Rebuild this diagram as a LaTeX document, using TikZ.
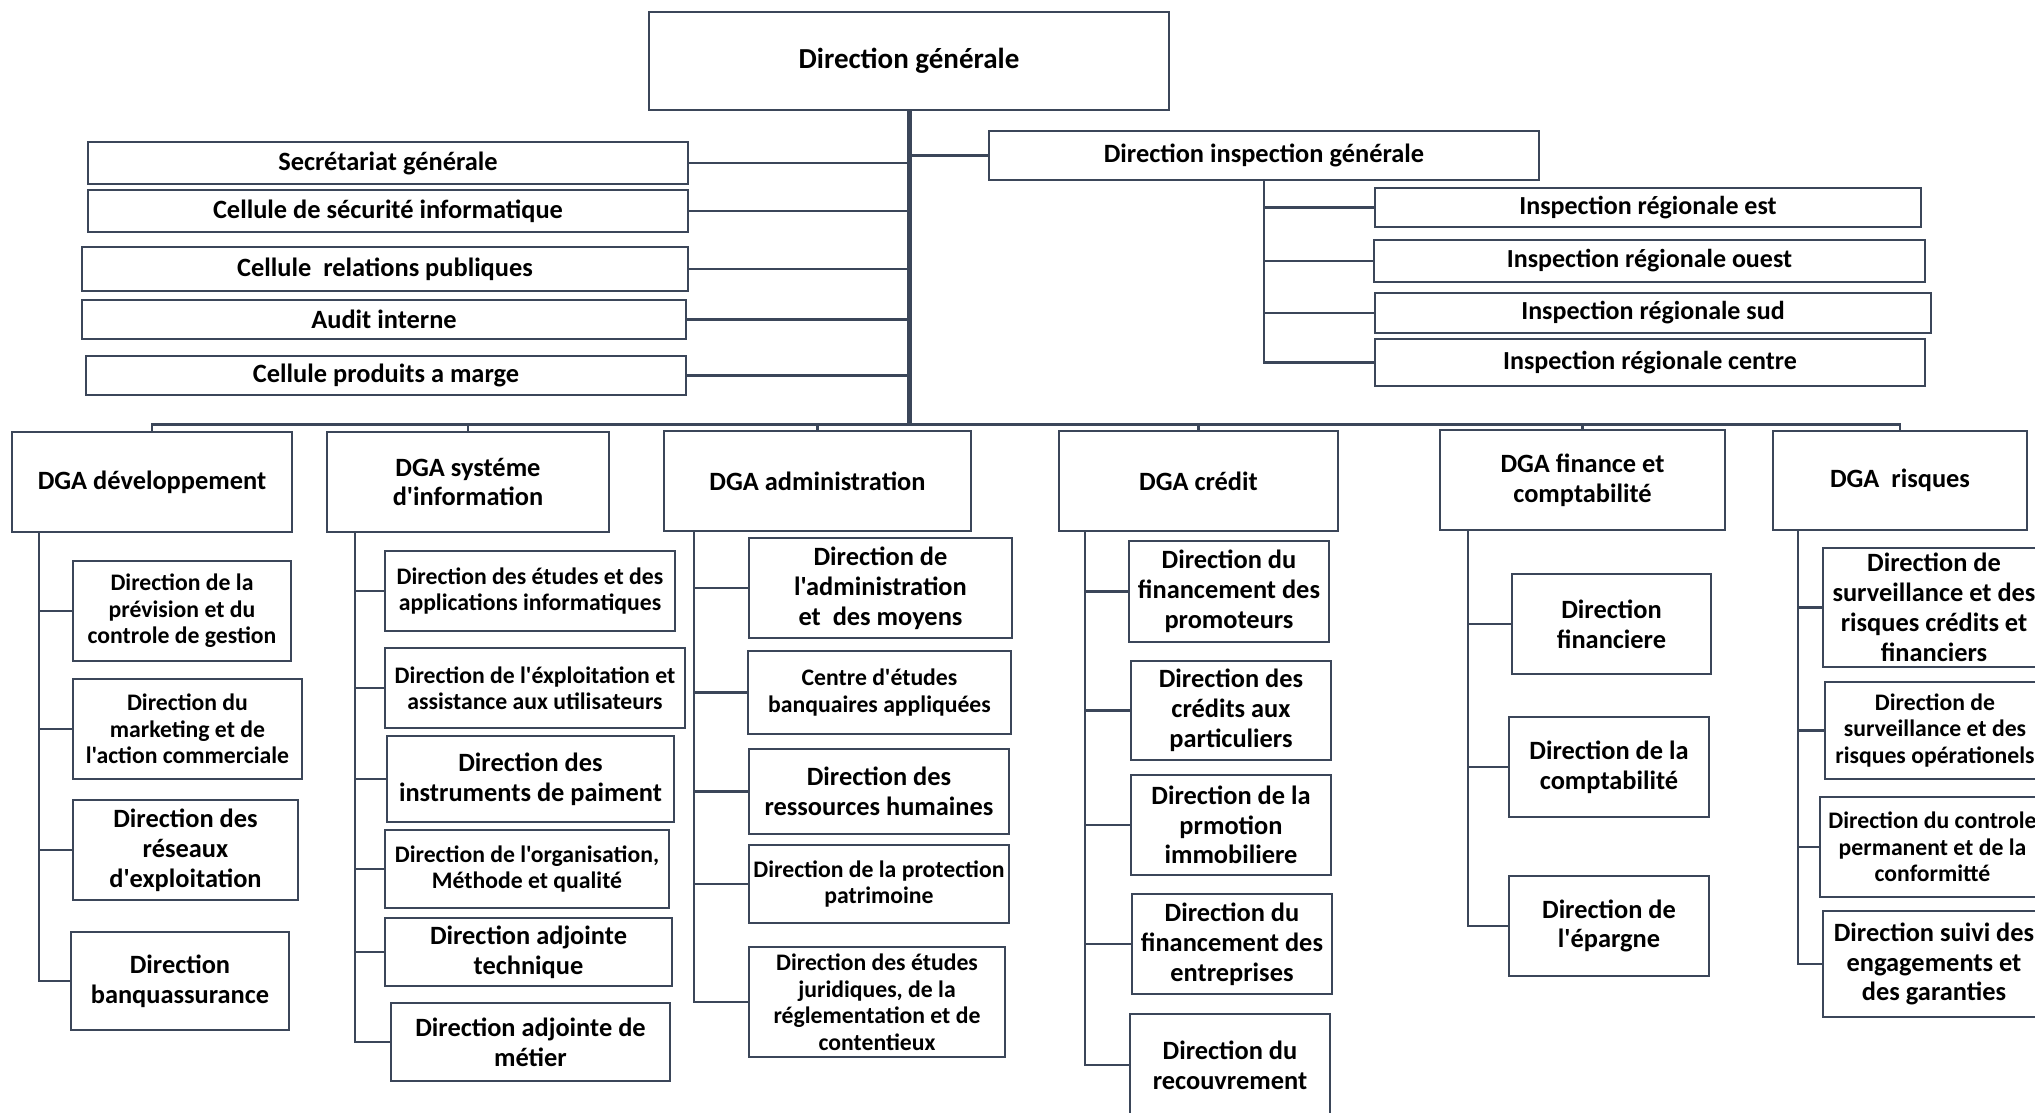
\documentclass[tikz,border=0pt]{standalone}
\usepackage{fontspec}
\setmainfont{Carlito}[Ligatures=TeXOff]
\definecolor{ln}{HTML}{3B4659}
\newcommand{\bx}[7]{%
  \node[box,#6,minimum width={(#4-#2)*1pt},minimum height={(#5-#3)*1pt}] (#1) at ({(#2+#4)/2},{(#3+#5)/2}) {#7};}
\begin{document}
\begin{tikzpicture}[x=1pt,y=-1pt,
  box/.style={draw=ln,line width=2.5pt,fill=white,inner sep=0pt,align=center,text=black},
  tS/.style={font=\fontsize{23.7}{26.5}\selectfont\bfseries},
  tL/.style={font=\fontsize{26.4}{29.8}\selectfont\bfseries},
  tI/.style={font=\fontsize{26}{29}\selectfont\bfseries},
  tG/.style={font=\fontsize{29}{33}\selectfont\bfseries},
  conn/.style={draw=ln,line width=2.5pt},
  trunk/.style={draw=ln,line width=5pt},
  busthick/.style={draw=ln,line width=3.5pt}]
\useasboundingbox (0,0) rectangle (2035,1112);
\fill[white] (0,0) rectangle (2035,1112);
\clip (0,0) rectangle (2035,1112);
% top
\bx{gen}{649}{12}{1169}{110}{tG}{Direction générale}
\bx{sec}{88}{142}{688}{184}{tL}{Secrétariat générale}
\bx{cel}{88}{190}{688}{232}{tL}{Cellule de sécurité informatique}
\bx{rel}{82}{247}{688}{291}{tL}{Cellule\ \ relations publiques}
\bx{aud}{82}{300}{686}{339}{tL}{Audit interne}
\bx{prod}{86}{356}{686}{395}{tL}{Cellule produits a marge}
\bx{insp}{989}{131}{1539}{180}{tL}{Direction inspection générale}
\bx{ira}{1375}{188}{1921}{227}{tI}{Inspection régionale est}
\bx{irb}{1374}{240}{1925}{282}{tI}{Inspection régionale ouest}
\bx{irc}{1375}{293}{1931}{333}{tI}{Inspection régionale sud}
\bx{ird}{1375}{339}{1925}{386}{tI}{Inspection régionale centre}
% DGA row
\bx{dev}{12}{432}{292}{532}{tL}{DGA développement}
\bx{si}{327}{432}{609}{532}{tL}{DGA systéme\\d'information}
\bx{adm}{664}{431}{971}{531}{tL}{DGA administration}
\bx{cre}{1059}{431}{1338}{531}{tL}{DGA crédit}
\bx{fin}{1440}{430}{1725}{530}{tL}{DGA finance et\\comptabilité}
\bx{ris}{1773}{431}{2027}{530}{tL}{DGA\ \ risques}
% dev children
\bx{deva}{73}{561}{291}{661}{tS}{Direction de la\\prévision et du\\controle de gestion}
\bx{devb}{73}{679}{302}{779}{tS}{Direction du\\marketing et de\\l'action commerciale}
\bx{devc}{73}{800}{298}{900}{tL}{Direction des\\réseaux\\d'exploitation}
\bx{devd}{71}{932}{289}{1030}{tL}{Direction\\banquassurance}
% SI children
\bx{sia}{385}{551}{675}{631}{tS}{Direction des études et des\\applications informatiques}
\bx{sib}{385}{648}{685}{728}{tS}{Direction de l'éxploitation et\\assistance aux utilisateurs}
\bx{sic}{387}{736}{674}{822}{tL}{Direction des\\instruments de paiment}
\bx{sid}{385}{830}{669}{908}{tS}{Direction de l'organisation,\\Méthode et qualité}
\bx{sie}{385}{918}{672}{986}{tL}{Direction adjointe\\technique}
\bx{sif}{391}{1003}{670}{1081}{tL}{Direction adjointe de\\métier}
% admin children
\bx{adma}{749}{538}{1012}{638}{tL}{Direction de\\l'administration\\et\ \ des moyens}
\bx{admb}{748}{651}{1011}{734}{tS}{Centre d'études\\banquaires appliquées}
\bx{admc}{749}{749}{1009}{834}{tL}{Direction des\\ressources humaines}
\bx{admd}{749}{845}{1009}{923}{tS}{Direction de la protection\\patrimoine}
\bx{adme}{749}{947}{1005}{1057}{tS}{Direction des études\\juridiques, de la\\réglementation et de\\contentieux}
% credit children
\bx{crea}{1129}{541}{1329}{642}{tL}{Direction du\\financement des\\promoteurs}
\bx{creb}{1131}{661}{1331}{760}{tL}{Direction des\\crédits aux\\particuliers}
\bx{crec}{1131}{775}{1331}{875}{tL}{Direction de la\\prmotion\\immobiliere}
\bx{cred}{1132}{894}{1332}{994}{tL}{Direction du\\financement des\\entreprises}
\bx{cree}{1130}{1014}{1330}{1116}{tL}{Direction du\\recouvrement}
% finance children
\bx{fina}{1512}{574}{1711}{674}{tL}{Direction\\financiere}
\bx{finb}{1509}{717}{1709}{817}{tL}{Direction de la\\comptabilité}
\bx{finc}{1509}{876}{1709}{976}{tL}{Direction de\\l'épargne}
% risques children
\bx{risa}{1823}{548}{2045}{667}{tL}{Direction de\\surveillance et des\\risques crédits et\\financiers}
\bx{risb}{1825}{682}{2045}{779}{tS}{Direction de\\surveillance et des\\risques opérationels}
\bx{risc}{1820}{797}{2045}{897}{tS}{Direction du controle\\permanent et de la\\conformitté}
\bx{risd}{1823}{911}{2045}{1017}{tL}{Direction suivi des\\engagements et\\des garanties}
% connectors top
\path (gen.south) ++(0,313) coordinate (bus);
\foreach \c in {sec,cel,rel,aud,prod} \draw[conn] (\c.east) -- (\c.east -| gen.south);
\draw[conn] (gen.south |- insp.west) -- (insp.west);
\foreach \c in {ira,irb,irc,ird} \draw[conn] (insp.south) |- (\c.west);
\foreach \c in {dev,si,adm,cre,fin,ris} \draw[conn] (bus) -| (\c.north);
\draw[busthick] (bus) -- (bus -| fin.north);
\draw[trunk] (gen.south) -- ([yshift=-2pt]bus);
% child connectors
\path (dev.south west) ++(28,0) coordinate (devv);
\path (si.south west) ++(29,0) coordinate (siv);
\path (adm.south west) ++(31,0) coordinate (admv);
\path (cre.south west) ++(27,0) coordinate (crev);
\path (fin.south west) ++(29,0) coordinate (finv);
\path (ris.south west) ++(26,0) coordinate (risv);
\foreach \c in {deva,devb,devc,devd} \draw[conn] (devv) |- (\c.west);
\foreach \c in {sia,sib,sic,sid,sie,sif} \draw[conn] (siv) |- (\c.west);
\foreach \c in {adma,admb,admc,admd,adme} \draw[conn] (admv) |- (\c.west);
\foreach \c in {crea,creb,crec,cred,cree} \draw[conn] (crev) |- (\c.west);
\foreach \c in {fina,finb,finc} \draw[conn] (finv) |- (\c.west);
\foreach \c in {risa,risb,risc,risd} \draw[conn] (risv) |- (\c.west);
\end{tikzpicture}
\end{document}
